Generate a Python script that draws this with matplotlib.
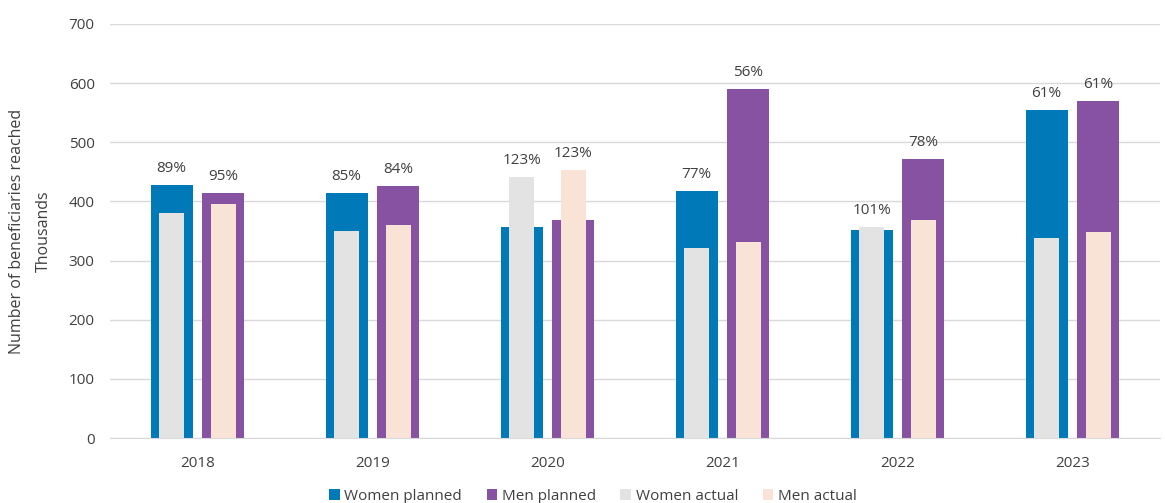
import numpy as np
import matplotlib
matplotlib.use("Agg")
import matplotlib.pyplot as plt

years = ["2018", "2019", "2020", "2021", "2022", "2023"]
women_planned = [428, 414, 357, 418, 351, 554]
men_planned = [414, 426, 368, 590, 472, 570]
women_actual = [380, 350, 441, 321, 356, 338]
men_actual = [396, 360, 453, 331, 368, 348]
women_pct = ["89%", "85%", "123%", "77%", "101%", "61%"]
men_pct = ["95%", "84%", "123%", "56%", "78%", "61%"]

plt.rcParams.update({"font.family": ["Open Sans", "DejaVu Sans"], "font.size": 11})

C_WP, C_MP = "#0079B8", "#8652A1"
C_WA, C_MA = "#E3E3E3", "#F9E2D6"
TXT = "#404040"

fig = plt.figure(figsize=(11.65, 5.03), dpi=100)
ax = fig.add_axes([0.0944, 0.1292, 0.9013, 0.8231])

x = np.arange(len(years))
off, w_plan, w_act = 0.148, 0.24, 0.143
ax.bar(x - off, women_planned, w_plan, color=C_WP, zorder=2, label="Women planned")
ax.bar(x + off, men_planned, w_plan, color=C_MP, zorder=2, label="Men planned")
ax.bar(x - off, women_actual, w_act, color=C_WA, zorder=3, label="Women actual")
ax.bar(x + off, men_actual, w_act, color=C_MA, zorder=3, label="Men actual")

# percentage achieved, above the taller of planned/actual
for i in range(len(years)):
    yw = max(women_planned[i], women_actual[i])
    ym = max(men_planned[i], men_actual[i])
    ax.annotate(women_pct[i], (x[i] - off, yw), xytext=(0, 12), textcoords="offset points",
                ha="center", va="center", color=TXT, fontsize=11)
    ax.annotate(men_pct[i], (x[i] + off, ym), xytext=(0, 12), textcoords="offset points",
                ha="center", va="center", color=TXT, fontsize=11)

ax.set_xlim(-0.5, len(years) - 0.5)
ax.set_ylim(0, 700)
ax.set_yticks(range(0, 701, 100))
ax.set_xticks(x)
ax.set_xticklabels(years)
ax.tick_params(axis="both", length=0, colors=TXT, labelsize=11)
ax.tick_params(axis="x", pad=13)
ax.tick_params(axis="y", pad=11)
ax.grid(axis="y", color="#D9D9D9", lw=1, zorder=0)
for s in ["top", "right", "left"]:
    ax.spines[s].set_visible(False)
ax.spines["bottom"].set_color("#D9D9D9")
ax.set_axisbelow(True)

ax.set_ylabel("Number of beneficiaries reached\nThousands", color=TXT, fontsize=11.5,
              labelpad=12, linespacing=1.95)

fig.legend(loc="center", bbox_to_anchor=(0.509, 0.013), ncol=4, frameon=False,
           handlelength=0.7, handleheight=0.7, handletextpad=0.3, columnspacing=1.6,
           fontsize=11, labelcolor=TXT)

fig.savefig("out.png", dpi=100)
